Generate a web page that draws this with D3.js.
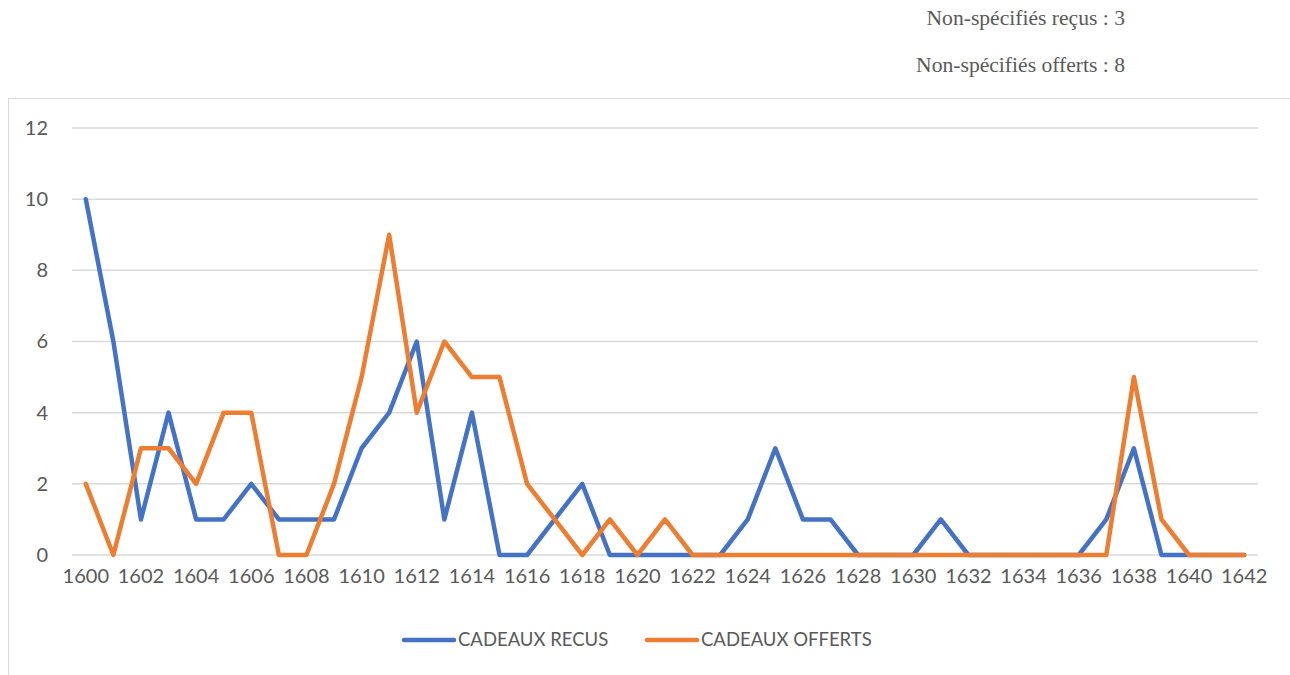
<!DOCTYPE html>
<html>
<head>
<meta charset="utf-8">
<script src="https://cdn.jsdelivr.net/npm/d3@7"></script>
<style>
  body { margin: 0; background: #fff; }
</style>
</head>
<body>
<svg id="chart" width="1290" height="675"></svg>
<script>
const years = d3.range(1600, 1643);
const recus = [10, 6, 1, 4, 1, 1, 2, 1, 1, 1, 3, 4, 6, 1, 4, 0, 0, 1, 2, 0, 0, 0, 0, 0, 1, 3, 1, 1, 0, 0, 0, 1, 0, 0, 0, 0, 0, 1, 3, 0, 0, 0, 0];
const offerts = [2, 0, 3, 3, 2, 4, 4, 0, 0, 2, 5, 9, 4, 6, 5, 5, 2, 1, 0, 1, 0, 1, 0, 0, 0, 0, 0, 0, 0, 0, 0, 0, 0, 0, 0, 0, 0, 0, 5, 1, 0, 0, 0];
const yTicks = [0, 2, 4, 6, 8, 10, 12];
const seriesNames = ["CADEAUX RECUS", "CADEAUX OFFERTS"];
const notes = ["Non-spécifiés reçus : 3", "Non-spécifiés offerts : 8"];

const colors = ["#4472C4", "#ED7D31"];
const svg = d3.select("#chart");

// cadre du graphique
svg.append("rect")
  .attr("x", 8.5).attr("y", 98.5)
  .attr("width", 1300).attr("height", 620)
  .attr("fill", "none").attr("stroke", "#d9d9d9");

// notes en haut à droite
svg.selectAll(".note")
  .data(notes)
  .join("text")
  .attr("class", "note")
  .attr("x", 1125)
  .attr("y", (d, i) => 25 + i * 47)
  .attr("text-anchor", "end")
  .style("font-family", "'Liberation Serif', 'DejaVu Serif', serif")
  .style("font-size", "21.6px")
  .attr("fill", "#595959")
  .text(d => d);

const x = d3.scaleBand()
  .domain(years)
  .range([72, 1258]);

const y = d3.scaleLinear()
  .domain([0, 12])
  .range([555, 128]);

// grille
svg.append("g")
  .selectAll("line")
  .data(yTicks)
  .join("line")
  .attr("x1", 72).attr("x2", 1258)
  .attr("y1", d => y(d)).attr("y2", d => y(d))
  .attr("stroke", "#d9d9d9")
  .attr("stroke-width", 1.5);

const font = "Lato, 'Open Sans', sans-serif";

const yAxis = svg.append("g")
  .attr("transform", "translate(48,0)")
  .call(d3.axisLeft(y).tickValues(yTicks).tickSize(0).tickPadding(0));
yAxis.select(".domain").remove();
yAxis.selectAll("text")
  .style("font-family", font).style("font-size", "20px").attr("fill", "#595959");

const xAxis = svg.append("g")
  .attr("transform", "translate(0,568)")
  .call(d3.axisBottom(x).tickValues(years.filter(d => d % 2 === 0)).tickSize(0).tickPadding(0));
xAxis.select(".domain").remove();
xAxis.selectAll("text")
  .attr("dy", "0.75em")
  .style("font-family", font).style("font-size", "20px").attr("fill", "#595959");

const line = d3.line()
  .x((d, i) => x(years[i]) + x.bandwidth() / 2)
  .y(d => y(d));

svg.selectAll(".serie")
  .data([recus, offerts])
  .join("path")
  .attr("class", "serie")
  .attr("d", line)
  .attr("fill", "none")
  .attr("stroke", (d, i) => colors[i])
  .attr("stroke-width", 4.5)
  .attr("stroke-linejoin", "round")
  .attr("stroke-linecap", "round");

// légende
const legend = svg.selectAll(".leg")
  .data(seriesNames)
  .join("g")
  .attr("class", "leg")
  .attr("transform", (d, i) => "translate(" + (404 + i * 243) + ",640)");
legend.append("line")
  .attr("x1", 0).attr("x2", 50)
  .attr("stroke", (d, i) => colors[i])
  .attr("stroke-width", 4.5)
  .attr("stroke-linecap", "round");
legend.append("text")
  .attr("x", 54).attr("dy", "0.35em")
  .style("font-family", font).style("font-size", "18.5px").attr("fill", "#595959")
  .text(d => d);
</script>
</body>
</html>
